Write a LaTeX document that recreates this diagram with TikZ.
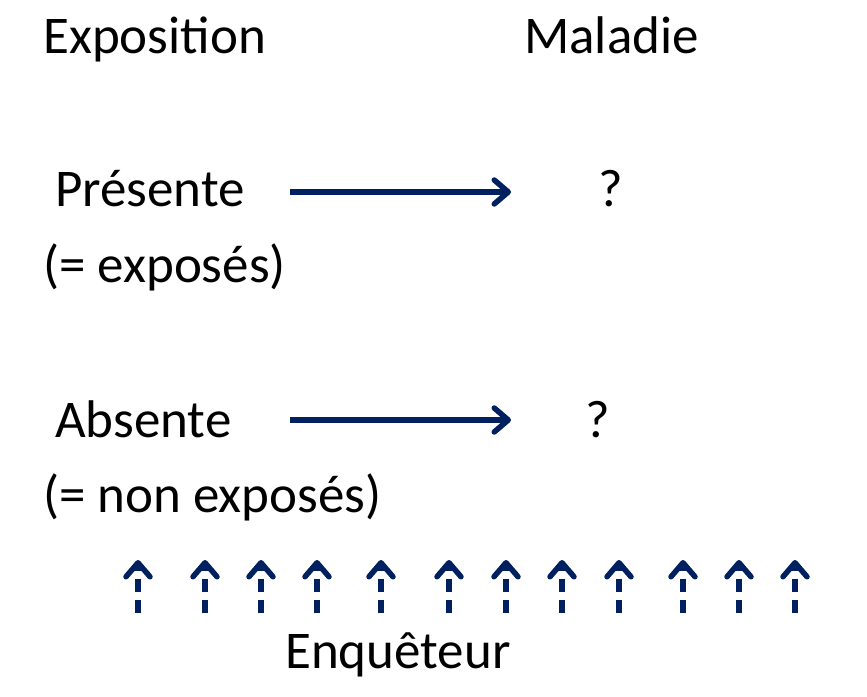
\documentclass[tikz,border=0pt]{standalone}
\usepackage{fontspec}
\setmainfont{Carlito}
\usetikzlibrary{arrows.meta}
\definecolor{navy}{HTML}{002060}
\begin{document}
\begin{tikzpicture}[x=1pt,y=-1pt,
  txt/.style={anchor=base west,inner sep=0pt,font=\fontsize{53}{60}\selectfont},
  link/.style={draw=navy,line width=5.5pt,
    -{Straight Barb[length=14pt,width=24pt,line width=5.5pt,round]}},
  probe/.style={link,dash pattern=on 13pt off 8pt}]
\useasboundingbox (0,0) rectangle (867,696);
% column headers
\node[txt] (expo) at (43,53) {Exposition};
\node[txt] (mal) at (524,53) {Maladie};
% exposed group
\node[txt] (pres) at (55,206) {Présente};
\node[txt] (expd) at (43,282) {(= exposés)};
\node[txt] (q1) at (598,206) {?};
% unexposed group
\node[txt] (abs) at (55,437) {Absente};
\node[txt] (nexp) at (43,512) {(= non exposés)};
\node[txt] (q2) at (585,437) {?};
% investigator
\node[txt] (enq) at (285,668) {Enquêteur};
% exposure -> disease arrows
\coordinate (a1) at (290,192);
\coordinate (b1) at (511,192);
\coordinate (a2) at (290,420);
\coordinate (b2) at (511,420);
\draw[link] (a1) -- (b1);
\draw[link] (a2) -- (b2);
% dashed observation arrows
\foreach \i/\x in {1/138,2/205,3/261,4/317,5/381,6/449,7/506,8/562,9/619,10/683,11/739,12/795}{
  \coordinate (p\i) at (\x,613);
  \coordinate (t\i) at (\x,560);
  \draw[probe] (p\i) -- (t\i);
}
\end{tikzpicture}
\end{document}
